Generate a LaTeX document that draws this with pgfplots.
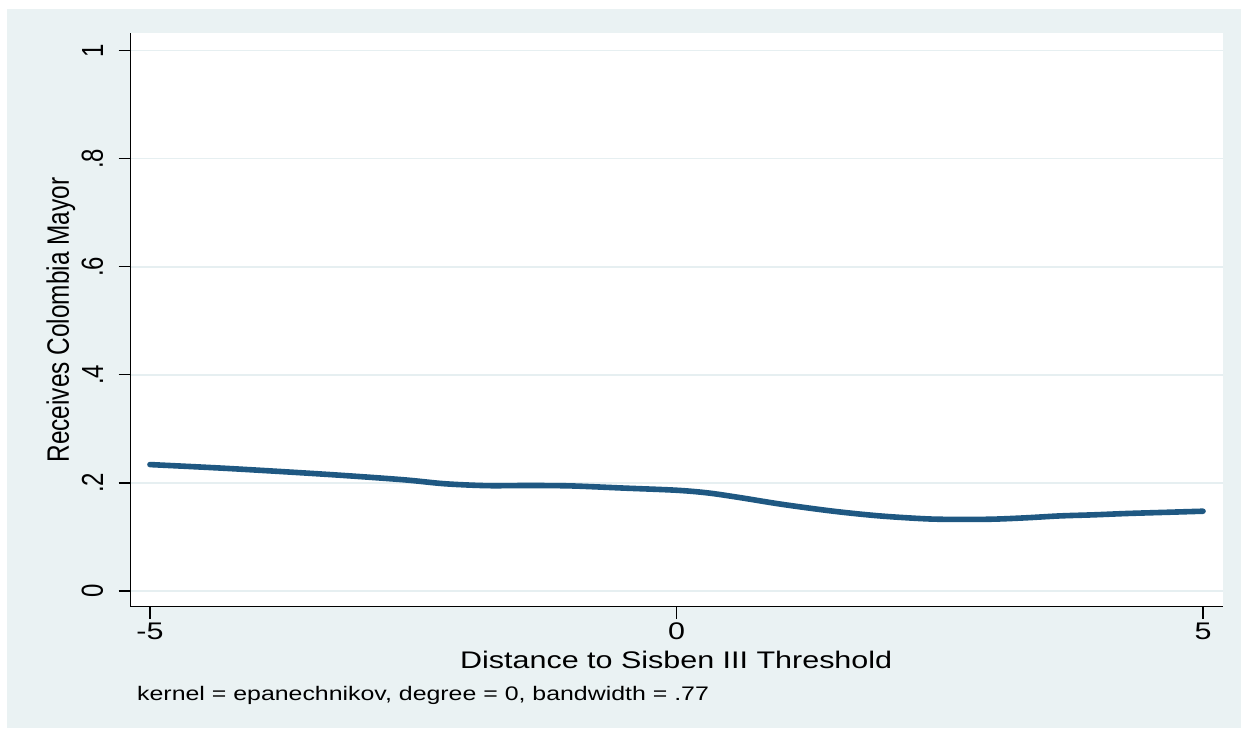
\documentclass[border=0pt]{standalone}
\usepackage{fontspec}
\setmainfont{Liberation Sans}
\usepackage{pgfplots}
\pgfplotsset{compat=1.18}
\definecolor{bgc}{RGB}{234,242,243}
\definecolor{gridc}{RGB}{230,239,241}
\definecolor{linec}{RGB}{31,88,130}
\newcommand{\tfont}{\fontsize{12}{12}\selectfont}
\newcommand{\yfont}{\fontsize{12.2}{12.2}\selectfont}
\newcommand{\nfont}{\fontsize{9.8}{9.8}\selectfont}
\begin{document}
\begin{tikzpicture}
\fill[white] (-65.35pt,-61.65pt) rectangle (558.65pt,303.35pt);
\fill[bgc] (-61.85pt,-60.65pt) rectangle (555.15pt,298.85pt);
\begin{axis}[
  at={(0pt,0pt)}, anchor=south west,
  scale only axis, width=546pt, height=286.7pt,
  xmin=-5.183, xmax=5.187, ymin=-0.029, ymax=1.032,
  axis lines=left,
  axis line style={-, line width=0.6pt, black},
  tick style={black, line width=0.6pt},
  tick align=outside, major tick length=6pt,
  xtick={-5,0,5}, xticklabels={-5,0,5},
  ytick={0,0.2,0.4,0.6,0.8,1}, yticklabels={0,.2,.4,.6,.8,1},
  minor tick num=0,
  ymajorgrids, xmajorgrids=false,
  grid style={gridc, line width=0.8pt},
  axis background/.style={fill=white},
  xticklabel shift=2pt,
  yticklabel shift=7.5pt,
  xticklabel style={font=\tfont, anchor=north, inner sep=0pt, xscale=1.27},
  yticklabel style={font=\tfont, rotate=90, anchor=south, inner sep=0pt, yscale=1.27},
  xlabel={Distance to Sisben III Threshold},
  xlabel style={font=\tfont, at={(axis description cs:0.4995,-0.1074)}, anchor=base, inner sep=0pt, xscale=1.27},
  ylabel={Receives Colombia Mayor},
  ylabel style={font=\yfont, at={(axis description cs:-0.064,0.5)}, anchor=center, inner sep=0pt, yscale=1.27},
  clip mode=individual,
]
\addplot[linec, line width=2.8pt, line cap=round, line join=round, smooth, tension=0.5] coordinates {
(-5,0.234) (-4.24,0.2266) (-3.29,0.2155) (-2.6,0.206) (-2.2,0.1985)
(-1.8,0.195) (-1.4,0.1953) (-1.0,0.1945) (-0.5,0.1905) (0.0,0.1865)
(0.3,0.1815) (0.6,0.173) (1.0,0.1605) (1.49,0.1477) (1.93,0.139)
(2.38,0.1335) (2.7,0.1325) (3.01,0.133) (3.32,0.1355) (3.64,0.139)
(3.96,0.141) (4.28,0.1435) (4.59,0.1453) (5,0.1477)
};
\node[font=\nfont, anchor=base west, inner sep=0pt, xscale=1.27] at (axis description cs:0.0055,-0.1627) {kernel = epanechnikov, degree = 0, bandwidth = .77};
\end{axis}
\end{tikzpicture}
\end{document}
